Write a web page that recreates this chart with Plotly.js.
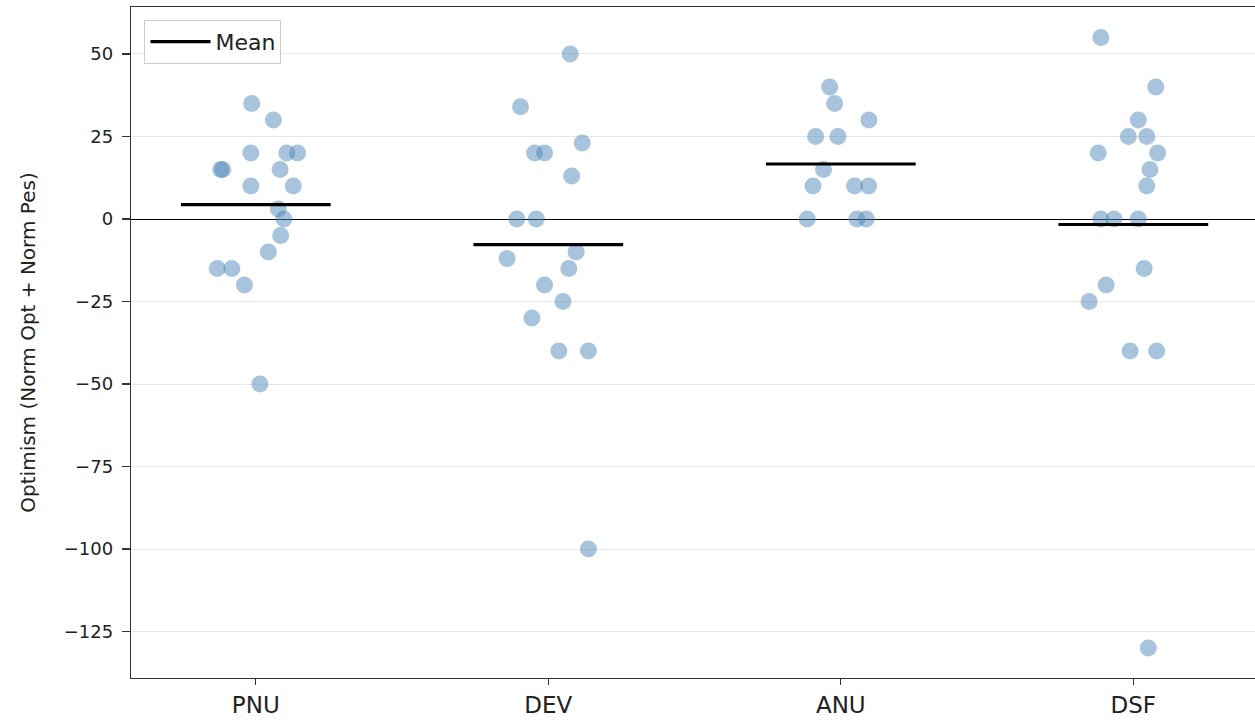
<!DOCTYPE html>
<html>
<head>
<meta charset="utf-8">
<script src="https://cdn.plot.ly/plotly-3.0.1.min.js"></script>
<style>html,body{margin:0;padding:0;background:#fff;}#chart{width:1255px;height:721px;}</style>
</head>
<body>
<div id="chart"></div>
<script>
// Categories and tick labels
const categories = ["PNU", "DEV", "ANU", "DSF"];

// Values per category
const valuesPNU = [35, 30, 20, 20, 20, 15, 15, 15, 10, 10, 3, 0, -5, -10, -15, -15, -20, -50];
const valuesDEV = [50, 34, 23, 20, 20, 13, 0, 0, -12, -10, -15, -20, -25, -30, -40, -40, -100];
const valuesANU = [40, 35, 30, 25, 25, 15, 10, 10, 10, 0, 0, 0];
const valuesDSF = [55, 40, 30, 25, 25, 20, 20, 15, 10, 0, 0, 0, -15, -20, -25, -40, -40, -130];

// Horizontal strip jitter of each point (category units)
const jitterPNU = [-0.014, 0.060, -0.017, 0.106, 0.143, -0.120, -0.113, 0.083, -0.017, 0.128, 0.077, 0.096, 0.085, 0.043, -0.132, -0.082, -0.039, 0.014];
const jitterDEV = [0.075, -0.095, 0.116, -0.047, -0.013, 0.080, -0.108, -0.041, -0.141, 0.095, 0.070, -0.013, 0.050, -0.056, 0.036, 0.137, 0.137];
const jitterANU = [-0.038, -0.021, 0.096, -0.086, -0.010, -0.059, -0.095, 0.047, 0.095, -0.115, 0.055, 0.087];
const jitterDSF = [-0.111, 0.077, 0.017, -0.017, 0.046, -0.120, 0.083, 0.057, 0.046, -0.111, -0.066, 0.017, 0.037, -0.093, -0.151, -0.011, 0.080, 0.051];

const yTickVals = [50, 25, 0, -25, -50, -75, -100, -125];

const allValues = [valuesPNU, valuesDEV, valuesANU, valuesDSF];
const allJitter = [jitterPNU, jitterDEV, jitterANU, jitterDSF];

const px = [], py = [];
allValues.forEach((vals, i) => {
  vals.forEach((v, j) => { px.push(i + allJitter[i][j]); py.push(v); });
});

const meanHalfWidth = 0.256;
const mx = [], my = [];
allValues.forEach((vals, i) => {
  const m = vals.reduce((a, b) => a + b, 0) / vals.length;
  mx.push(i - meanHalfWidth, i + meanHalfWidth, null);
  my.push(m, m, null);
});

const font = "DejaVu Sans, sans-serif";

const traces = [
  {
    type: "scatter", mode: "markers", x: px, y: py, showlegend: false,
    hoverinfo: "y",
    marker: { size: 17, color: "rgba(70,130,180,0.47)", line: { width: 0 } }
  },
  {
    type: "scatter", mode: "lines", x: mx, y: my, name: "Mean",
    line: { color: "#000", width: 3.2 }
  }
];

const layout = {
  width: 1255, height: 721,
  margin: { l: 131, r: 0, t: 7, b: 43 },
  paper_bgcolor: "#fff", plot_bgcolor: "#fff",
  font: { family: font, color: "#222" },
  showlegend: true,
  legend: {
    x: 0.012, y: 0.981, xanchor: "left", yanchor: "top",
    bgcolor: "rgba(255,255,255,0.9)", bordercolor: "#cccccc", borderwidth: 1,
    itemwidth: 60,
    font: { family: font, size: 22, color: "#222" }
  },
  xaxis: {
    range: [-0.4267, 3.416],
    tickmode: "array", tickvals: [0, 1, 2, 3], ticktext: categories,
    tickfont: { family: font, size: 23, color: "#222" },
    ticks: "outside", ticklen: 6, tickcolor: "#333", tickwidth: 1.3,
    showgrid: false, zeroline: false,
    showline: true, mirror: true, linecolor: "#333", linewidth: 1.3
  },
  yaxis: {
    range: [-139.09, 64.24],
    tickmode: "array", tickvals: yTickVals,
    tickfont: { family: font, size: 18, color: "#222" },
    ticks: "outside", ticklen: 8, tickcolor: "#333", tickwidth: 1.3,
    ticklabelstandoff: 5,
    showgrid: true, gridcolor: "#e8e8e8", gridwidth: 1,
    zeroline: true, zerolinecolor: "#000", zerolinewidth: 1,
    showline: true, linecolor: "#333", linewidth: 1.3,
    title: { text: "Optimism (Norm Opt + Norm Pes)", font: { family: font, size: 20, color: "#222" }, standoff: 22 }
  }
};

Plotly.newPlot("chart", traces, layout, { displayModeBar: false, staticPlot: true });
</script>
</body>
</html>
